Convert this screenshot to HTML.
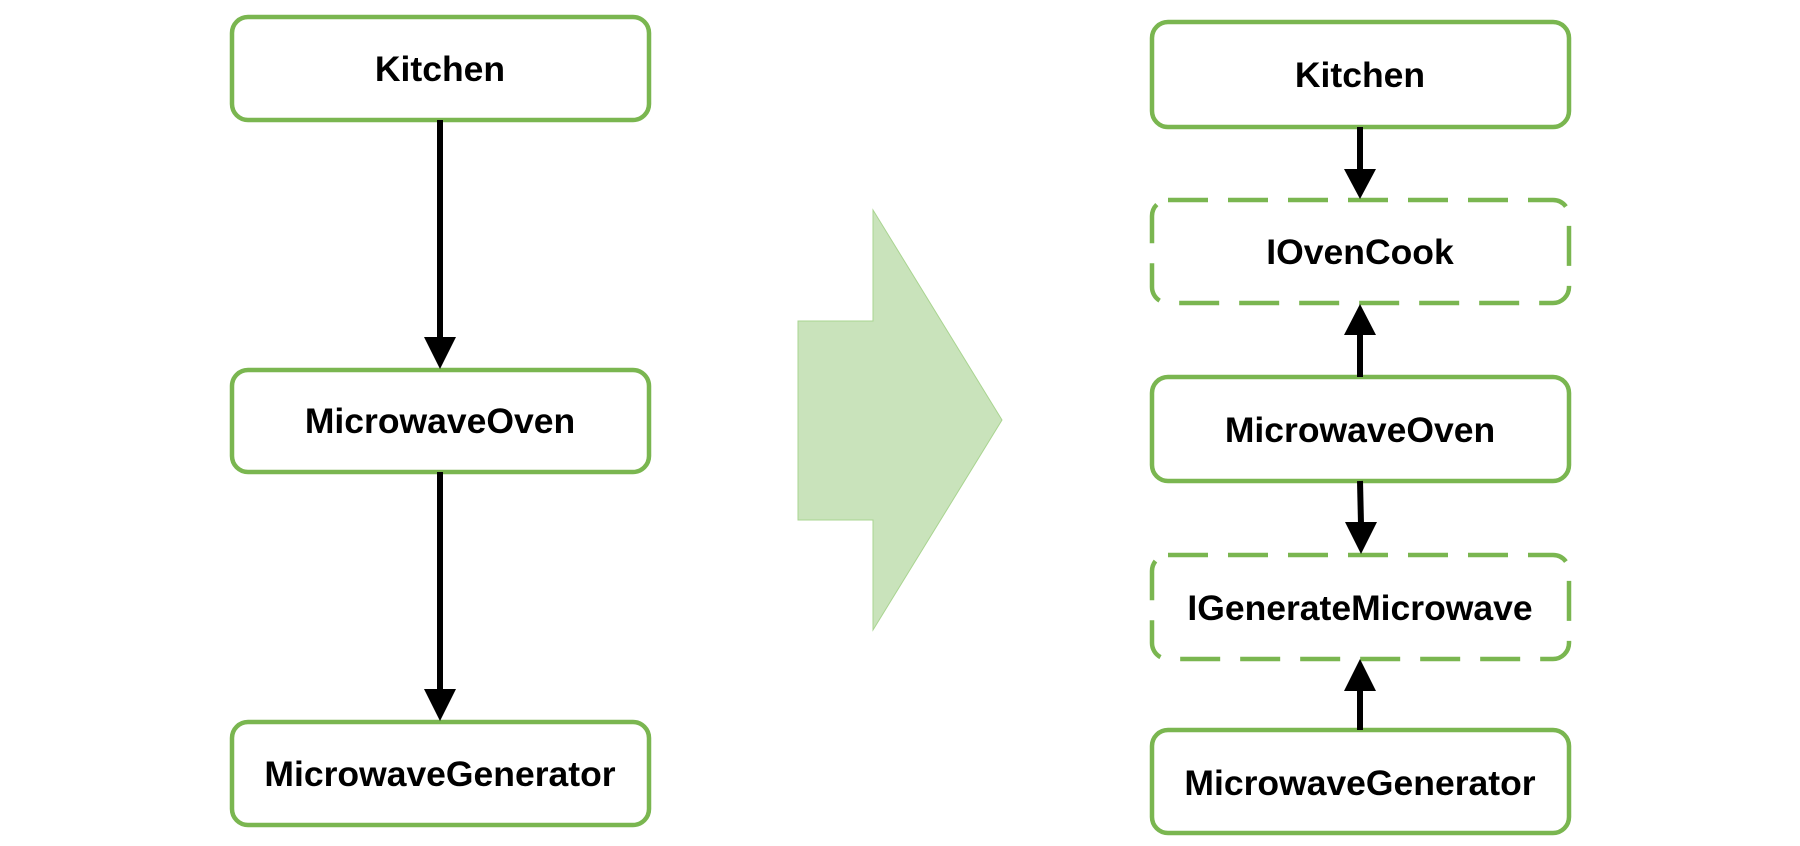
<!DOCTYPE html>
<html><head><meta charset="utf-8"><style>
html,body{margin:0;padding:0;background:#fff;}
svg{display:block;}
text{font-family:"Liberation Sans",sans-serif;font-weight:bold;font-size:35.5px;fill:#000;text-anchor:middle;dominant-baseline:central;}
</style></head><body>
<svg width="1800" height="846" viewBox="0 0 1800 846" xmlns="http://www.w3.org/2000/svg">
<g fill="#fff" stroke="#7ab650" stroke-width="4.5">
<rect x="232" y="17" width="417" height="103" rx="16"/>
<rect x="232" y="370" width="417" height="102" rx="16"/>
<rect x="232" y="722" width="417" height="103" rx="16"/>
<rect x="1152" y="22" width="417" height="105" rx="16"/>
<rect x="1152" y="377" width="417" height="104" rx="16"/>
<rect x="1152" y="730" width="417" height="103" rx="16"/>
<rect x="1152" y="200" width="417" height="103" rx="16" stroke-dasharray="40 20"/>
<rect x="1152" y="555" width="417" height="104" rx="16" stroke-dasharray="40 20"/>
</g>
<polygon points="798,321 873,321 873,210 1002,420 873,630 873,520 798,520" fill="#c9e3bb" stroke="#a9d490" stroke-width="1"/>
<g stroke="#000" stroke-width="6">
<line x1="440" y1="120" x2="440" y2="340"/>
<line x1="440" y1="472" x2="440" y2="692"/>
<line x1="1360" y1="127" x2="1360" y2="170"/>
<line x1="1360" y1="334" x2="1360" y2="377"/>
<line x1="1360" y1="481" x2="1361" y2="524"/>
<line x1="1360" y1="690" x2="1360" y2="730"/>
</g>
<g fill="#000">
<polygon points="424,337 456,337 440,369"/>
<polygon points="424,689 456,689 440,721"/>
<polygon points="1344,169 1376,169 1360,199"/>
<polygon points="1344,335 1376,335 1360,304"/>
<polygon points="1345,522 1377,522 1361,554"/>
<polygon points="1344,691 1376,691 1360,659"/>
</g>
<text x="440" y="69">Kitchen</text>
<text x="440" y="421">MicrowaveOven</text>
<text x="440" y="774">MicrowaveGenerator</text>
<text x="1360" y="75">Kitchen</text>
<text x="1360" y="252">IOvenCook</text>
<text x="1360" y="430">MicrowaveOven</text>
<text x="1360" y="608">IGenerateMicrowave</text>
<text x="1360" y="783">MicrowaveGenerator</text>
</svg>
</body></html>
